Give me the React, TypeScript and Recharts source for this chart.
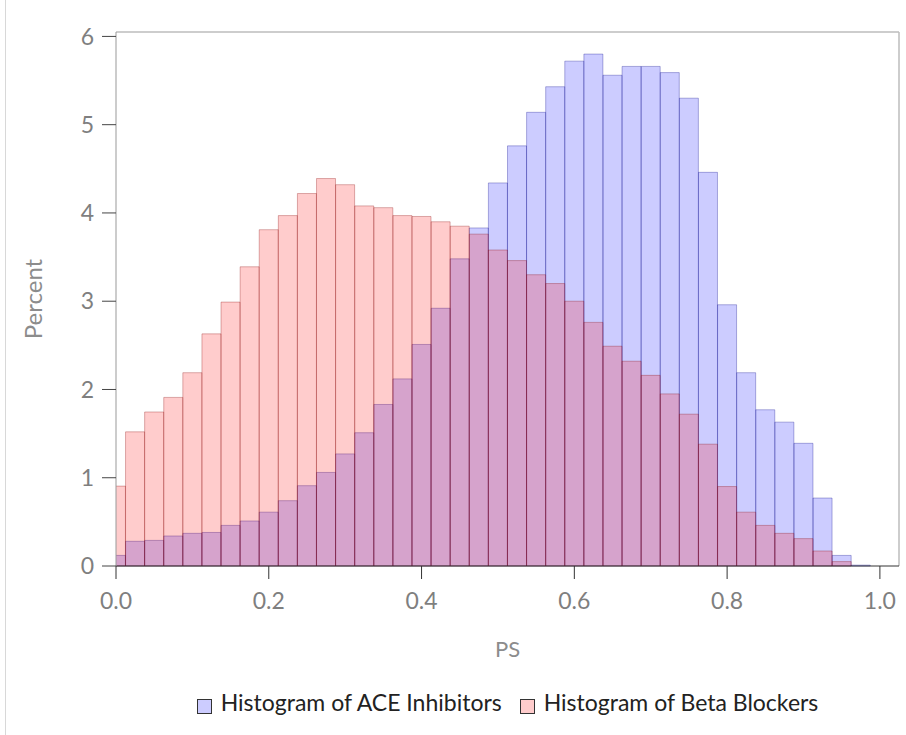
import React from 'react';
import { ComposedChart, Bar, XAxis, YAxis, Legend, ReferenceLine } from 'recharts';

const psBins = [
  0, 0.025, 0.05, 0.075, 0.1, 0.125, 0.15, 0.175, 0.2, 0.225,
  0.25, 0.275, 0.3, 0.325, 0.35, 0.375, 0.4, 0.425, 0.45, 0.475,
  0.5, 0.525, 0.55, 0.575, 0.6, 0.625, 0.65, 0.675, 0.7, 0.725,
  0.75, 0.775, 0.8, 0.825, 0.85, 0.875, 0.9, 0.925, 0.95, 0.975,
];

const aceInhibitors = [
  0.12, 0.28, 0.29, 0.34, 0.37, 0.38, 0.46, 0.51, 0.61, 0.74,
  0.91, 1.06, 1.27, 1.51, 1.83, 2.12, 2.51, 2.92, 3.48, 3.83,
  4.34, 4.76, 5.14, 5.43, 5.72, 5.8, 5.56, 5.66, 5.66, 5.59,
  5.3, 4.46, 2.96, 2.19, 1.77, 1.63, 1.39, 0.77, 0.12, 0.01,
];

const betaBlockers = [
  0.905, 1.52, 1.745, 1.91, 2.19, 2.63, 2.99, 3.39, 3.81, 3.97,
  4.22, 4.39, 4.32, 4.08, 4.06, 3.97, 3.96, 3.9, 3.85, 3.76,
  3.58, 3.46, 3.3, 3.2, 3.0, 2.76, 2.49, 2.32, 2.16, 1.95,
  1.72, 1.38, 0.9, 0.61, 0.46, 0.37, 0.31, 0.17, 0.05, 0,
];

const xTicks = [0, 0.2, 0.4, 0.6, 0.8, 1.0];
const yTicks = [0, 1, 2, 3, 4, 5, 6];

const aceName = 'Histogram of ACE Inhibitors';
const betaName = 'Histogram of Beta Blockers';

const data = psBins.map((ps, i) => ({ ps, ace: aceInhibitors[i], beta: betaBlockers[i] }));

const FONT = 'Lato, "Open Sans", sans-serif';
const X_MAX = 1.025;
const Y_MAX = 6.05;
const xDomain: [number, number] = [0, X_MAX];
const yDomain: [number, number] = [0, Y_MAX];

const swatch: Record<string, string> = {
  ace: '#ccccff',
  beta: '#ffcccc',
};

const LegendContent = (props: any) => {
  const payload = props.payload || [];
  return (
    <div
      style={{
        display: 'flex',
        justifyContent: 'center',
        alignItems: 'flex-start',
        height: 28,
        lineHeight: '28px',
        fontFamily: FONT,
        fontSize: 23,
        color: '#222',
      }}
    >
      {payload.map((entry: any, i: number) => (
        <div key={i} style={{ display: 'flex', alignItems: 'flex-start', marginLeft: i === 0 ? 0 : 18 }}>
          <span
            style={{
              display: 'inline-block',
              width: 13,
              height: 13,
              background: swatch[entry.dataKey] || '#ccc',
              border: '1.5px solid #333',
              marginRight: 9,
              marginTop: 11,
            }}
          />
          <span>{entry.value}</span>
        </div>
      ))}
    </div>
  );
};

export default function App() {
  return (
    <div style={{ position: 'absolute', left: 0, top: 0, width: 906, height: 735, background: '#fff' }}>
      <div style={{ position: 'absolute', left: 5, top: 0, width: 1, height: 735, background: '#d8d8d8' }} />
      <ComposedChart
        width={906}
        height={735}
        data={data}
        margin={{ top: 32, right: 7, left: 0, bottom: 17 }}
        barGap={0}
        barCategoryGap={0}
      >
        <XAxis
          xAxisId="ace"
          type="number"
          dataKey="ps"
          domain={xDomain}
          ticks={xTicks}
          allowDataOverflow
          tickFormatter={(v: number) => v.toFixed(1)}
          tickSize={13}
          tickMargin={14}
          height={124}
          axisLine={{ stroke: '#333' }}
          tickLine={{ stroke: '#333' }}
          tick={{ fill: '#7f7f7f', fontSize: 23, fontFamily: FONT }}
          label={{ value: 'PS', position: 'insideTop', offset: 75, fill: '#8c8c8c', fontSize: 22, fontFamily: FONT }}
        />
        <XAxis xAxisId="beta" type="number" dataKey="ps" domain={xDomain} allowDataOverflow hide />
        <YAxis
          yAxisId="left"
          type="number"
          domain={yDomain}
          ticks={yTicks}
          width={116}
          tickSize={14}
          tickMargin={8}
          axisLine={{ stroke: '#999' }}
          tickLine={{ stroke: '#444' }}
          tick={{ fill: '#7f7f7f', fontSize: 23, fontFamily: FONT }}
          label={{ value: 'Percent', angle: -90, position: 'insideLeft', offset: 33, fill: '#8c8c8c', fontSize: 24, fontFamily: FONT, style: { textAnchor: 'middle' } }}
        />
        <Legend verticalAlign="bottom" content={LegendContent} wrapperStyle={{ left: 116, width: 783, top: 688 }} />
        <Bar
          xAxisId="ace"
          yAxisId="left"
          dataKey="ace"
          name={aceName}
          fill="#0000ff"
          fillOpacity={0.2}
          stroke="#000088"
          strokeOpacity={0.3}
          isAnimationActive={false}
        />
        <Bar
          xAxisId="beta"
          yAxisId="left"
          dataKey="beta"
          name={betaName}
          fill="#ff0000"
          fillOpacity={0.2}
          stroke="#880000"
          strokeOpacity={0.3}
          isAnimationActive={false}
        />
        <ReferenceLine xAxisId="ace" yAxisId="left" y={Y_MAX} stroke="#bdbdbd" strokeWidth={1.5} ifOverflow="visible" />
        <ReferenceLine xAxisId="ace" yAxisId="left" x={X_MAX} stroke="#bdbdbd" strokeWidth={1.5} ifOverflow="visible" />
      </ComposedChart>
    </div>
  );
}
